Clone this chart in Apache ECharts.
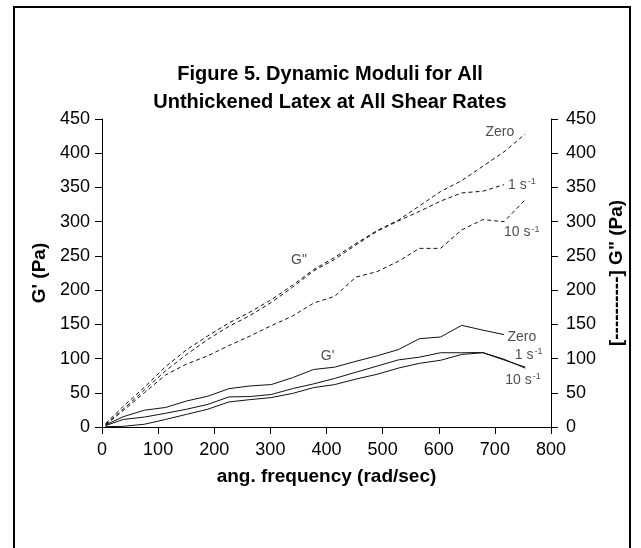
<!DOCTYPE html>
<html>
<head>
<meta charset="utf-8">
<script src="https://cdn.jsdelivr.net/npm/echarts@6/dist/echarts.min.js"></script>
<style>
html,body{margin:0;padding:0;background:#fff;}
#chart{width:641px;height:548px;}
</style>
</head>
<body>
<div id="chart"></div>
<script>
// angular frequency (rad/sec)
const freq = [6.3, 37.7, 75.4, 113.1, 150.8, 188.5, 226.2, 263.9, 301.6, 339.3, 377.0, 414.7, 452.4, 490.1, 527.8, 565.5, 603.2, 640.9, 678.6, 716.3, 754.0];
// G' (Pa), solid lines
const gpZero = [3, 15, 24.5, 28.5, 38, 45, 56, 60, 62, 72, 84, 87.5, 96, 104, 113, 129, 131.5, 148.5, 141.5, 135];
const gp1s   = [2, 11, 14.5, 20, 26, 33, 44, 44.5, 47.5, 56, 63, 71, 80, 89, 98, 102, 108.5, 108.5, 108.8, 99, 86];
const gp10s  = [0.5, 1, 4, 11, 18.5, 26, 36.6, 40, 43, 49, 57.5, 62, 70, 77, 86, 93, 97.5, 106, 108.5, 98, 87.5];
// G" (Pa), dashed lines
const gppZero = [5, 30, 58, 88, 113, 133, 152, 168, 186, 207, 230, 248, 268, 287, 302, 323, 344, 360, 381, 402, 428];
const gpp1s   = [4, 26, 54, 82, 106, 128, 147, 163, 182, 204, 228, 245, 266, 286, 301, 315, 330, 342, 344.5, 354];
const gpp10s  = [3, 24, 50, 76, 92, 104, 119, 133, 148, 162, 181, 191, 219, 227, 242, 261, 261, 288, 303, 300, 332];
// axis ticks [min, max, interval]
const xTicks = [0, 800, 100];
const yTicks = [0, 450, 50];
// annotation texts and their anchor in data units
const annoText = ['Zero', '1 s{sup|-1}', '10 s{sup|-1}', 'Zero', '1 s{sup|-1}', '10 s{sup|-1}', 'G"', "G'"];
const annoX = [709, 748, 748, 748, 760, 750, 351, 402];
const annoY = [431, 353, 284, 130.6, 105, 69, 244, 104];

const FONT = 'Liberation Sans, Arial, Helvetica, sans-serif';
const pair = (ys) => ys.map((v, i) => [freq[i], v]);

function lineSeries(name, ys, dashed) {
  return {
    name: name, type: 'line', data: pair(ys), showSymbol: false, symbol: 'none',
    silent: true, animation: false,
    lineStyle: {color: '#111', width: 1, type: dashed ? [4, 3] : 'solid'}
  };
}

const chart = echarts.init(document.getElementById('chart'), null, {renderer: 'canvas'});
const axisCommon = {
  min: yTicks[0], max: yTicks[1], interval: yTicks[2],
  splitLine: {show: false},
  axisLine: {show: true, lineStyle: {color: '#000', width: 1}},
  axisTick: {show: true, length: 7, lineStyle: {color: '#000'}},
  nameLocation: 'middle', nameRotate: 90,
  nameTextStyle: {fontFamily: FONT, fontWeight: 'bold', fontSize: 19, color: '#000'}
};
chart.setOption({
  animation: false,
  backgroundColor: '#fff',
  title: {
    text: 'Figure 5. Dynamic Moduli for All\nUnthickened Latex at All Shear Rates',
    left: 325, top: 55, textAlign: 'center',
    textStyle: {fontFamily: FONT, fontWeight: 'bold', fontSize: 20, lineHeight: 28, color: '#000'}
  },
  grid: {left: 102, right: 90, top: 119, bottom: 121, containLabel: false},
  xAxis: {
    type: 'value', min: xTicks[0], max: xTicks[1], interval: xTicks[2],
    splitLine: {show: false},
    axisLine: {show: true, onZero: false, lineStyle: {color: '#000', width: 1}},
    axisTick: {show: true, length: 7, lineStyle: {color: '#000'}},
    axisLabel: {fontFamily: FONT, fontSize: 18, color: '#000', margin: 14},
    name: 'ang. frequency (rad/sec)', nameLocation: 'middle', nameGap: 40,
    nameTextStyle: {fontFamily: FONT, fontWeight: 'bold', fontSize: 19, color: '#000'}
  },
  yAxis: [
    Object.assign({}, axisCommon, {
      type: 'value', position: 'left', name: "G' (Pa)", nameGap: 47,
      axisLabel: {fontFamily: FONT, fontSize: 18, color: '#000', margin: 12}
    }),
    Object.assign({}, axisCommon, {
      type: 'value', position: 'right', name: '[----------] G" (Pa)', nameGap: 53,
      axisLabel: {fontFamily: FONT, fontSize: 18, color: '#000', margin: 15}
    })
  ],
  graphic: [{
    type: 'rect', shape: {x: 14, y: 7, width: 616, height: 560},
    style: {fill: 'none', stroke: '#000', lineWidth: 2}, silent: true
  }],
  series: [
    lineSeries("G' Zero", gpZero, false),
    lineSeries("G' 1/s", gp1s, false),
    lineSeries("G' 10/s", gp10s, false),
    Object.assign(lineSeries('G" Zero', gppZero, true), {yAxisIndex: 1}),
    Object.assign(lineSeries('G" 1/s', gpp1s, true), {yAxisIndex: 1}),
    Object.assign(lineSeries('G" 10/s', gpp10s, true), {yAxisIndex: 1}),
    {
      type: 'scatter', silent: true, symbolSize: 1, itemStyle: {color: 'rgba(0,0,0,0)'},
      data: annoText.map((t, i) => ({value: [annoX[i], annoY[i]], text: t})),
      label: {
        show: true, position: 'inside',
        formatter: (p) => p.data.text,
        fontFamily: FONT, fontSize: 14, color: '#222',
        rich: {sup: {fontFamily: FONT, fontSize: 9, color: '#222', verticalAlign: 'top', padding: [0, 0, 7, 1]}}
      }
    }
  ]
});
</script>
</body>
</html>
